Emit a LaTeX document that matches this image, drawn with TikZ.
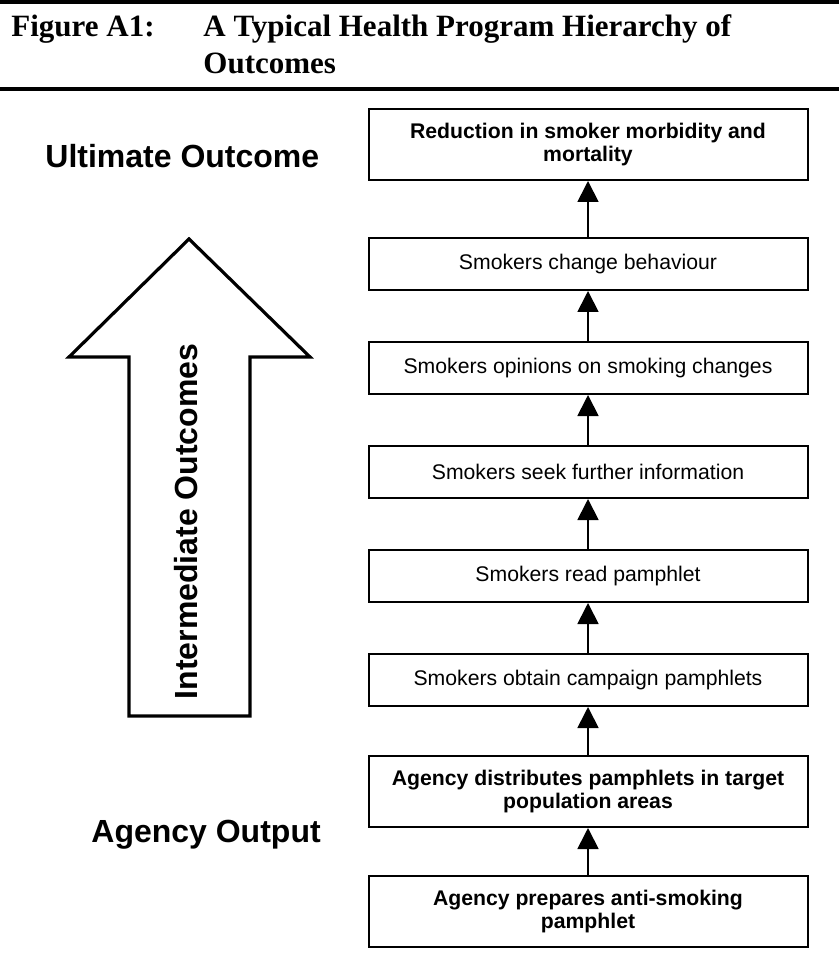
\documentclass[tikz,border=0pt]{standalone}
\usepackage{fontspec}
\setmainfont{Liberation Sans}
\newfontfamily\headserif{Liberation Serif}
\usepackage{tikz}
\usetikzlibrary{positioning}
\usetikzlibrary{arrows.meta}

\begin{document}
\begin{tikzpicture}[>={Triangle[width=10.5pt,length=10.5pt]}, x=0.5pt, y=-0.5pt, node distance=25pt]
			\tikzstyle{stage} = [draw, line width=1pt, minimum width=219.5pt, minimum height=26pt, inner sep=2pt, align=center, font=\fontsize{10.6}{12}\selectfont]
			\tikzstyle{keystage} = [stage, minimum height=35.5pt, font=\fontsize{10.6}{11.8}\selectfont\bfseries]
			\tikzstyle{level} = [anchor=base west, inner sep=0pt, font=\fontsize{16}{19}\selectfont\bfseries]
			\tikzstyle{heading} = [anchor=base west, inner sep=0pt, align=left, font=\headserif\fontsize{15.5}{18.5}\selectfont\bfseries]
			\useasboundingbox (0,0) rectangle (839,978);

			% title rules and caption
			\draw[line width=2pt] (0,2) -- (839,2);
			\draw[line width=2pt] (0,89.5) -- (839,89.5);
			\node[heading] (fig) at (11,37) {Figure A1:};
			\node[heading] (title) at (203,74) {A Typical Health Program Hierarchy of\\Outcomes};

			% big arrow on the left
			\draw[line width=1.6pt, line join=miter] (189,239) -- (310,357) -- (250,357) -- (250,716)
				-- (129,716) -- (129,357) -- (69,357) -- cycle;
			\node[level, anchor=base, rotate=90] (middle) at (197,521.5) {Intermediate Outcomes};
			\node[level] (ultimate) at (45,168) {Ultimate Outcome};
			\node[level] (output) at (91,842) {Agency Output};

			\begin{scope}
			\path[->, line width=0.9pt]

			node[keystage] (prepare) at (588,911.5) {Agency prepares anti-smoking\\pamphlet}
			node[keystage, above=23.5pt of prepare] (distribute) {Agency distributes pamphlets in target\\population areas}
			node[stage, above=24pt of distribute] (obtain) {Smokers obtain campaign pamphlets}
			node[stage, above=of obtain] (read) {Smokers read pamphlet}
			node[stage, above=of read] (seek) {Smokers seek further information}
			node[stage, above=of seek] (opinion) {Smokers opinions on smoking changes}
			node[stage, above=of opinion] (behaviour) {Smokers change behaviour}
			node[keystage, above=28pt of behaviour] (reduction) {Reduction in smoker morbidity and\\mortality}

			(prepare) edge (distribute)
			(distribute) edge (obtain)
			(obtain) edge (read)
			(read) edge (seek)
			(seek) edge (opinion)
			(opinion) edge (behaviour)
			(behaviour) edge (reduction)
			;
			\end{scope}

\end{tikzpicture}
\end{document}
